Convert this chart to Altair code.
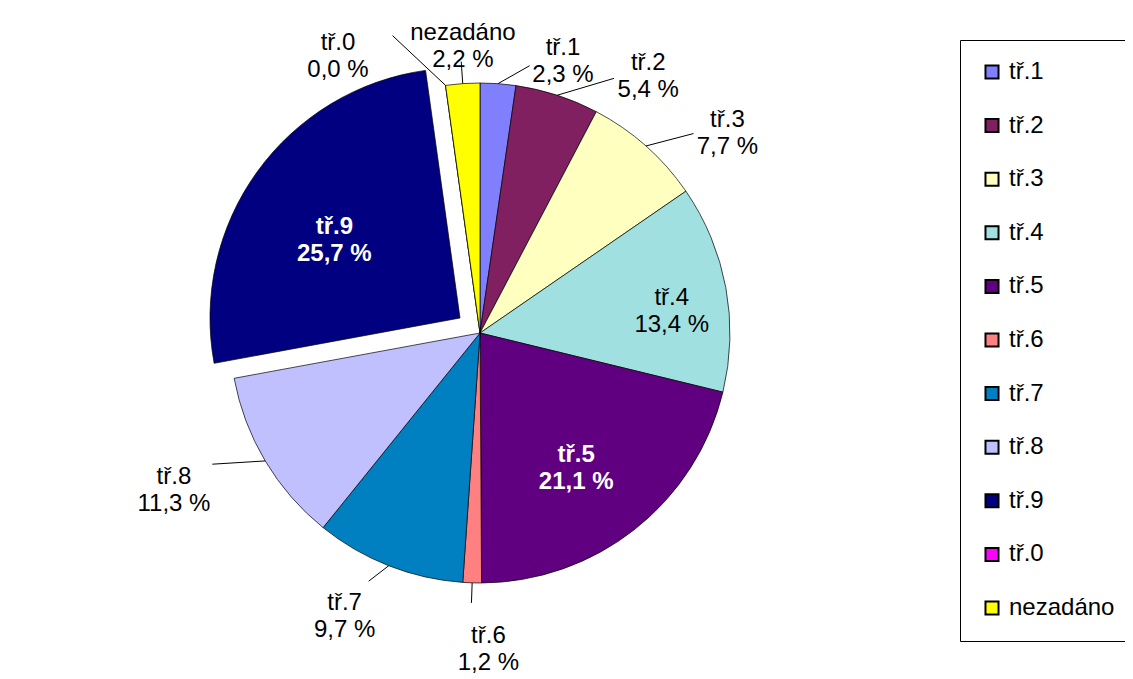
import math
import altair as alt
import pandas as pd

cats = ["tř.1", "tř.2", "tř.3", "tř.4", "tř.5", "tř.6", "tř.7", "tř.8", "tř.9", "tř.0", "nezadáno"]
vals = [2.3, 5.4, 7.7, 13.4, 21.1, 1.2, 9.7, 11.3, 25.7, 0.0, 2.2]
colors = ["#8080FF", "#802060", "#FFFFC0", "#A0E0E0", "#600080", "#FF8080",
          "#0080C0", "#C0C0FF", "#000080", "#FF00FF", "#FFFF00"]

df = pd.DataFrame({"cat": cats, "val": vals, "order": list(range(len(cats)))})

W, H = 1117, 670
CX, CY, R = 472, 325, 250
EX, EY = -20, -15
LR = R + 55          # outer label radius
LE = R + 22          # leader line end radius
FONT = "Liberation Sans"
FS = 24

# outer label layout: label dx, dy and leader-line end dx, dy
outer = {
    "tř.1": (61, 19, 30, 4),
    "tř.2": (74, 20, 50, 4),
    "tř.3": (45, 15, 33, 4),
    "tř.6": (18, -2, 0, -2),
    "tř.7": (-24, -14, -12, -5),
    "tř.8": (-44, -12, -34, -8),
    "tř.0": (-100, 12, -50, -28),
    "nezadáno": (4, 4, 0, 0),
}

theta_scale = alt.Scale(domain=[0, 100], range=[0, 2 * math.pi])

base = alt.Chart(df).transform_window(
    cum="sum(val)", sort=[alt.SortField("order")], frame=[None, 0]
).transform_calculate(
    t0="datum.cum - datum.val",
    t1="datum.cum",
    mid="datum.cum - datum.val / 2",
    lab="[datum.cat, replace(format(datum.val, '.1f'), '.', ',') + ' %']",
).transform_calculate(
    ang="datum.mid / 100 * 2 * PI"
).transform_calculate(
    rx1=f"{CX} + {R} * sin(datum.ang)",
    ry1=f"{CY} - {R} * cos(datum.ang)",
    rx2=f"{CX} + {LE} * sin(datum.ang)",
    ry2=f"{CY} - {LE} * cos(datum.ang)",
)

color_enc = alt.Color(
    "cat:N",
    scale=alt.Scale(domain=cats, range=colors),
    legend=alt.Legend(
        title=None, orient="none", legendX=952, legendY=32,
        strokeColor="black", fillColor="white", padding=20,
        labelFont=FONT, labelFontSize=FS, labelColor="black",
        symbolType="square", symbolSize=170, symbolStrokeColor="black",
        symbolStrokeWidth=2, rowPadding=29.6, labelOffset=5,
    ),
)


def arc_layer(filt, dx, dy):
    return base.transform_filter(filt).mark_arc(
        outerRadius=R, stroke="#000000", strokeWidth=0.7
    ).encode(
        theta=alt.Theta("t0:Q", scale=theta_scale),
        theta2="t1:Q",
        color=color_enc,
        x=alt.value(CX + dx),
        y=alt.value(CY + dy),
        order=alt.Order("order:Q"),
    )


def text_layer(filt, radius, dx=0, dy=0, bold=False, color="black", cx=CX, cy=CY):
    return base.transform_filter(filt).mark_text(
        radius=radius, font=FONT, fontSize=FS, lineHeight=27,
        fontWeight="bold" if bold else "normal", color=color,
        align="center", baseline="middle", dx=dx, dy=dy,
    ).encode(
        theta=alt.Theta("mid:Q", scale=theta_scale),
        text=alt.Text("lab:N"),
        x=alt.value(cx),
        y=alt.value(cy),
    )


def rule_layer(filt, ox=0, oy=0):
    return base.transform_filter(filt).mark_rule(
        color="black", strokeWidth=1, x2Offset=ox, y2Offset=oy
    ).encode(
        x=alt.X("rx1:Q", scale=None, axis=None),
        y=alt.Y("ry1:Q", scale=None, axis=None),
        x2="rx2:Q",
        y2="ry2:Q",
    )


layers = [
    arc_layer("datum.cat != 'tř.9'", 0, 0),
    arc_layer("datum.cat == 'tř.9'", EX, EY),
]
for c, (ldx, ldy, rdx, rdy) in outer.items():
    f = f"datum.cat == '{c}'"
    layers.append(rule_layer(f, rdx, rdy))
    layers.append(text_layer(f, LR, dx=ldx, dy=ldy))

layers += [
    text_layer("datum.cat == 'tř.4'", R * 0.78, color="black"),
    text_layer("datum.cat == 'tř.5'", R * 0.62, bold=True, color="white"),
    text_layer("datum.cat == 'tř.9'", R * 0.62, bold=True, color="white",
               cx=CX + EX, cy=CY + EY),
]

chart = alt.layer(*layers).properties(
    width=W, height=H, autosize="none", padding=0
).configure_view(stroke=None)

chart.save("out.html", embed_options={"renderer": "svg", "actions": False})
